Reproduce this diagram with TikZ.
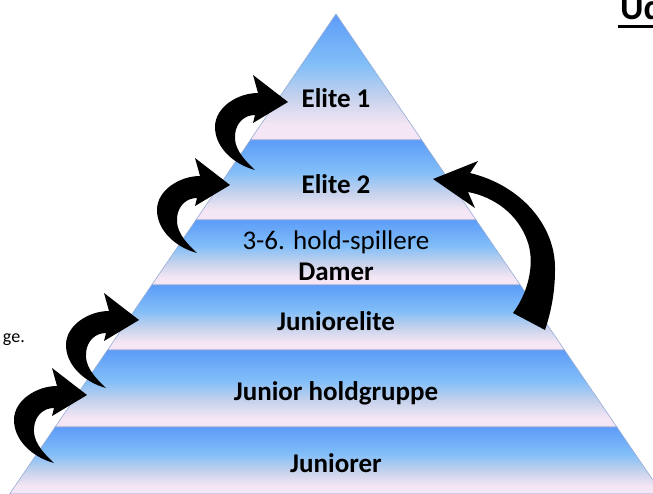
\documentclass[tikz,border=0pt]{standalone}
\usepackage{fontspec}
\setmainfont{Carlito}
\usepackage{tikz}
\usetikzlibrary{positioning}
\definecolor{bandtop}{RGB}{92,156,248}
\definecolor{bandsky}{RGB}{130,190,248}
\definecolor{bandgrey}{RGB}{198,210,236}
\definecolor{bandpink}{RGB}{244,230,244}
\definecolor{bandline}{RGB}{150,170,212}
\pgfdeclareverticalshading{bandshade}{100bp}{color(0bp)=(bandpink); color(25bp)=(bandpink); color(31bp)=(bandpink); color(42bp)=(bandgrey); color(55bp)=(bandsky); color(75bp)=(bandtop); color(100bp)=(bandtop)}

\begin{document}
\begin{tikzpicture}[
        x=1pt, y=-1pt,
        band/.style={
            shading=bandshade,
            draw=bandline,
            line width=0.6pt
        },
        level/.style={
            font=\fontsize{27}{30}\selectfont\bfseries,
            inner sep=0pt,
            anchor=base
        },
        plain/.style={
            font=\fontsize{27}{30}\selectfont,
            inner sep=0pt,
            anchor=base
        },
        blockarrow/.style={
            fill=black,
            draw=none
        }
    ]
        \useasboundingbox (0,0) rectangle (653,494);

        % Pyramid bands
        \foreach \ya/\yb in {14/140, 140/220, 220/285, 285/350, 350/427, 427/494}
            \shadedraw[band] ({336-0.68*(\ya-14)},\ya) -- ({336+0.68*(\ya-14)},\ya)
                -- ({336+0.68*(\yb-14)},\yb) -- ({336-0.68*(\yb-14)},\yb) -- cycle;

        % Levels
        \node[level] (elite1) at (336,108) {Elite 1};
        \node[level] (elite2) at (336,194) {Elite 2};
        \node[plain] (holdspil) at (336,250) {3-6. hold-spillere};
        \node[level] (damer) at (336,280) {Damer};
        \node[level] (jelite) at (336,330) {Juniorelite};
        \node[level] (jhold) at (336,400) {Junior holdgruppe};
        \node[level] (junior) at (336,472) {Juniorer};

        % Cut-off texts at the edges
        \node[anchor=base east, inner sep=0pt, font=\fontsize{18}{20}\selectfont] (note) at (25,342) {ge.};
        \node[anchor=base west, inner sep=0pt, font=\fontsize{36}{40}\selectfont\bfseries] (title) at (620,20) {Ud};
        \draw[line width=3pt] ([xshift=-2pt, yshift=-6.5pt]title.south west) -- ([yshift=-6.5pt]title.south east);

        % Left: arrows one level up
        \foreach \tx/\ty in {288/102, 230/185, 139/320, 87/395}
            \fill[blockarrow, shift={(\tx,\ty)}] (0,0) -- (-35,-27) -- (-30,-9)
                .. controls (-50,-9) and (-73,5) .. (-73,25)
                .. controls (-73,45) and (-55,62) .. (-33,68)
                .. controls (-47,55) and (-54,45) .. (-53,33)
                .. controls (-52,20) and (-43,13) .. (-33,13)
                -- (-35,21) -- cycle;

        % Right: jump from Juniorelite to Elite 2
        \fill[blockarrow] (433,179) -- (478,161) -- (470,173)
            .. controls (520,185) and (556,225) .. (555,270)
            .. controls (555,295) and (550,315) .. (545,330)
            -- (513,313)
            .. controls (530,290) and (535,260) .. (527,240)
            .. controls (518,215) and (495,197) .. (468,192)
            -- (475,208) -- cycle;
    \end{tikzpicture}
\end{document}
